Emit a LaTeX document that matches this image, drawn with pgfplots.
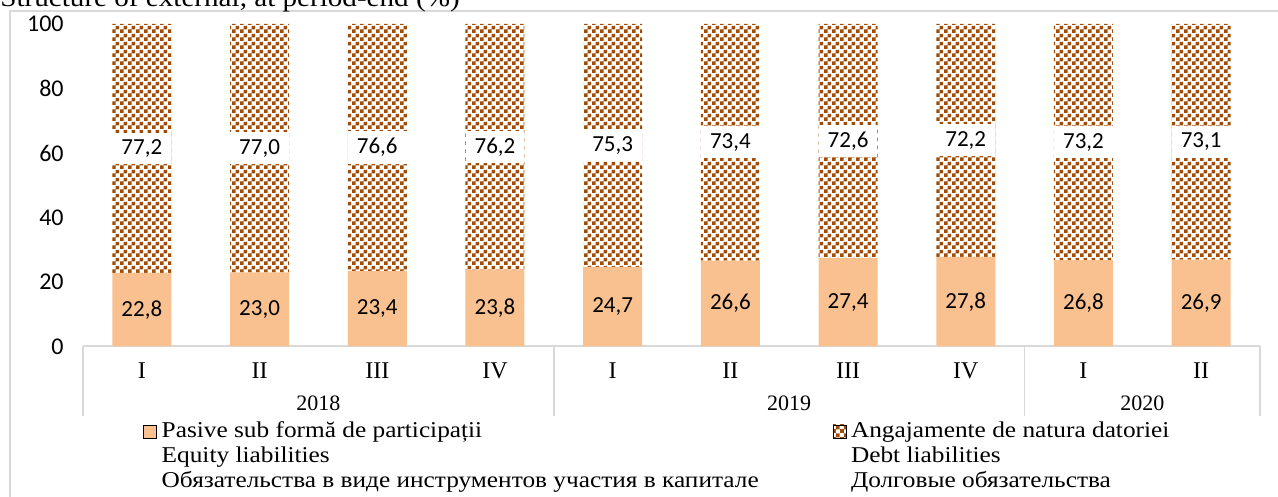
\documentclass[border=0pt]{standalone}
\usepackage{fontspec}
\setmainfont{Liberation Serif}
\newfontfamily\numfont{Carlito}
\newfontfamily\legfont{Liberation Serif}[FakeStretch=1.12]
\usepackage{pgfplots}
\usepackage{pgfplotstable}
\pgfplotsset{compat=1.18}
\usetikzlibrary{patterns}
\definecolor{eqcol}{RGB}{250,193,144}
\definecolor{debtcol}{RGB}{160,76,6}
\definecolor{framegray}{RGB}{217,217,217}

% fine checkerboard, 2pt squares
\pgfdeclarepatternformonly{finecheck}{\pgfqpoint{0pt}{0pt}}{\pgfqpoint{4pt}{4pt}}{\pgfqpoint{4pt}{4pt}}{%
  \pgfpathrectangle{\pgfqpoint{0pt}{0pt}}{\pgfqpoint{2.05pt}{2.05pt}}%
  \pgfpathrectangle{\pgfqpoint{2pt}{2pt}}{\pgfqpoint{2.05pt}{2.05pt}}%
  \pgfusepath{fill}}

\pgfplotstableread{
q  equity debt
0  22.8  77.2
1  23.0  77.0
2  23.4  76.6
3  23.8  76.2
4  24.7  75.3
5  26.6  73.4
6  27.4  72.6
7  27.8  72.2
8  26.8  73.2
9  26.9  73.1
}\datatable

\pgfplotsset{
  legsq/.style={legend image code/.code={\draw[##1] (0pt,0pt) rectangle (6.5pt,6.5pt);}},
  % stacked-bar labels already come out in the middle of each segment
  lbl/.style={
    nodes near coords={\pgfmathprintnumber[fixed,fixed zerofill,precision=1,use comma]{\pgfplotspointmeta}},
    every node near coord/.style={anchor=center, text=black,
      font=\numfont\fontsize{11.5}{13}\selectfont, #1},
  },
}

\begin{document}
\begin{tikzpicture}[x=1pt,y=1pt]
\useasboundingbox (0,0) rectangle (639,248.5);
\draw[framegray, line width=0.75pt] (5,-5) -- (5,243) -- (645,243);
\node[anchor=base west, inner sep=0pt, font=\legfont\fontsize{13}{15}\selectfont]
  at (0,245) {Structure of external, at period-end (\%)};
\begin{axis}[
  at={(41.5pt,75.25pt)}, anchor=south west,
  scale only axis, width=588.5pt, height=161.25pt,
  ybar stacked, bar width=29.5pt,
  xmin=-0.5, xmax=9.5, ymin=0, ymax=100,
  enlarge x limits=false, clip=false,
  axis lines*=left,
  y axis line style={draw=none},
  x axis line style={draw=framegray, line width=1pt},
  ytick={0,20,...,100},
  ytick style={draw=none},
  xtick={0,...,9},
  xticklabels={I,II,III,IV,I,II,III,IV,I,II},
  xtick style={draw=none},
  extra x ticks={-0.5,3.5,7.5,9.5},
  extra x tick labels={},
  extra x tick style={tick align=outside, major tick length=34.75pt,
    xtick style={draw=framegray, line width=0.75pt}},
  /pgf/number format/assume math mode=true,
  yticklabel style={font=\numfont\fontsize{12}{14}\selectfont, anchor=east, inner sep=0pt, xshift=-9.5pt},
  xticklabel style={font=\fontsize{12}{14}\selectfont, anchor=north, inner sep=0pt, yshift=-7.75pt},
  legend columns=2,
  legend style={at={(0.05098,-0.228)}, anchor=north west, draw=none, fill=none,
    inner sep=0pt, nodes={inner sep=0pt}, cells={anchor=base west},
    font=\legfont\fontsize{11.3}{12.5}\selectfont,
    /tikz/every odd column/.append style={column sep=2.25pt},
    /tikz/every even column/.append style={column sep=5.5pt}},
]
\addplot[fill=eqcol, draw=none, legsq, lbl={}, point meta=explicit]
  table[x=q, y=equity, meta=equity]{\datatable};
\addlegendentry{\begin{tabular}[t]{@{}p{330pt}@{}}Pasive sub formă de participații\\Equity liabilities\\Обязательства в виде инструментов участия в капитале\end{tabular}}
\addplot[pattern=finecheck, pattern color=debtcol, draw=none, legsq,
  lbl={fill=white, inner xsep=4.5pt, inner ysep=3.5pt}, point meta=explicit]
  table[x=q, y=debt, meta=debt]{\datatable};
\addlegendentry{\begin{tabular}[t]{@{}l@{}}Angajamente de natura datoriei\\Debt liabilities\\Долговые обязательства\end{tabular}}
\node[font=\fontsize{11}{13}\selectfont] at (axis cs:1.5,-17.5) {2018};
\node[font=\fontsize{11}{13}\selectfont] at (axis cs:5.5,-17.5) {2019};
\node[font=\fontsize{11}{13}\selectfont] at (axis cs:8.5,-17.5) {2020};
\end{axis}
\end{tikzpicture}
\end{document}
